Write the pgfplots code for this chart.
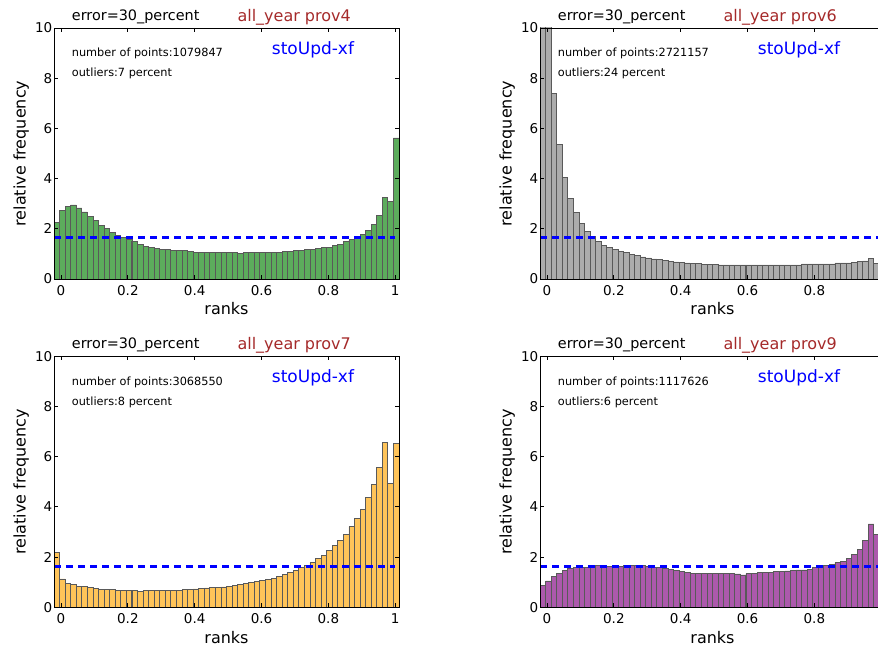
\documentclass[border=0pt]{standalone}
\usepackage{pgfplots}
\pgfplotsset{compat=1.18}
\usepackage{pgfplotstable}
\usepackage{fontspec}
\setmainfont{DejaVu Sans}
\definecolor{bargreen}{RGB}{92,172,92}
\definecolor{bargray}{RGB}{172,172,172}
\definecolor{barorange}{RGB}{255,196,89}
\definecolor{barpurple}{RGB}{172,89,172}
\definecolor{titlered}{RGB}{165,42,42}

\pgfplotstableread{
x p4 p6 p7 p9
-0.0127 2.27 15 2.20 0.88
0.0040 2.73 12 1.13 1.05
0.0206 2.89 7.40 0.95 1.23
0.0373 2.95 5.37 0.90 1.35
0.0539 2.83 4.05 0.83 1.47
0.0706 2.67 3.21 0.82 1.55
0.0872 2.49 2.66 0.78 1.59
0.1039 2.33 2.22 0.74 1.59
0.1205 2.13 1.90 0.71 1.60
0.1372 2.01 1.69 0.70 1.63
0.1538 1.87 1.51 0.70 1.67
0.1705 1.73 1.35 0.67 1.66
0.1871 1.67 1.26 0.67 1.63
0.2038 1.59 1.18 0.67 1.63
0.2204 1.49 1.10 0.67 1.64
0.2371 1.36 1.04 0.63 1.66
0.2537 1.29 0.98 0.66 1.66
0.2704 1.25 0.93 0.66 1.67
0.2870 1.20 0.88 0.66 1.67
0.3037 1.19 0.84 0.66 1.63
0.3203 1.17 0.80 0.66 1.59
0.3370 1.13 0.77 0.67 1.59
0.3536 1.12 0.73 0.67 1.55
0.3703 1.12 0.70 0.70 1.51
0.3869 1.08 0.68 0.71 1.47
0.4036 1.06 0.65 0.73 1.43
0.4202 1.06 0.64 0.75 1.39
0.4369 1.06 0.62 0.77 1.35
0.4535 1.06 0.61 0.78 1.35
0.4702 1.06 0.59 0.80 1.35
0.4868 1.06 0.58 0.81 1.35
0.5035 1.06 0.57 0.83 1.34
0.5201 1.06 0.56 0.88 1.34
0.5368 1.01 0.56 0.92 1.34
0.5534 1.05 0.56 0.95 1.34
0.5701 1.05 0.56 0.99 1.33
0.5867 1.05 0.56 1.03 1.29
0.6034 1.05 0.56 1.06 1.34
0.6200 1.05 0.56 1.10 1.34
0.6367 1.05 0.56 1.14 1.38
0.6533 1.06 0.56 1.22 1.38
0.6700 1.08 0.56 1.30 1.39
0.6866 1.10 0.56 1.38 1.42
0.7033 1.12 0.56 1.46 1.42
0.7199 1.14 0.56 1.58 1.45
0.7366 1.16 0.56 1.66 1.46
0.7532 1.19 0.56 1.78 1.49
0.7699 1.21 0.60 1.94 1.49
0.7865 1.24 0.60 2.06 1.50
0.8032 1.27 0.60 2.25 1.58
0.8198 1.32 0.60 2.45 1.60
0.8365 1.39 0.60 2.65 1.66
0.8531 1.51 0.60 2.89 1.72
0.8698 1.56 0.64 3.21 1.78
0.8864 1.67 0.64 3.53 1.82
0.9031 1.77 0.64 3.89 1.94
0.9197 1.93 0.67 4.36 2.10
0.9364 2.19 0.69 4.88 2.32
0.9530 2.53 0.72 5.56 2.67
0.9697 3.25 0.83 6.58 3.32
0.9863 3.09 0.62 4.93 2.89
1.0030 5.62 0.60 6.53 2.90
}\ranks

\pgfplotsset{
  rankaxis/.style={
    scale only axis, width=345pt, height=251pt, anchor=south west,
    xmin=-0.021, xmax=1.0113, ymin=0, ymax=10,
    xtick={0,0.2,0.4,0.6,0.8,1}, ytick={0,2,4,6,8,10},
    minor tick num=0,
    tick align=inside, major tick length=4pt,
    xtick pos=both, ytick pos=both,
    tick style={black, line width=0.8pt},
    axis line style={black, line width=0.8pt},
    axis on top,
    /pgf/number format/assume math mode=true,
    ticklabel style={font=\fontsize{13.5}{13.5}\selectfont},
    yticklabel style={inner sep=1.5pt},
    xticklabel style={inner sep=0pt, yshift=-6pt},
  },
  rankbar/.style={ybar, bar width=0.01665, bar shift=0pt, fill=#1, draw=black!65, line width=0.8pt},
}

\newcommand{\paneltexts}[5]{% #1 sx, #2 sy, #3 prov, #4 npoints, #5 outliers
  \begin{scope}[shift={(#1pt,#2pt)}]
    \node[anchor=base west, inner sep=0pt, font=\fontsize{14.4}{14.4}\selectfont] at (17.7pt,258.5pt) {error=30\_percent};
    \node[anchor=base west, inner sep=0pt, text=titlered, font=\fontsize{16}{16}\selectfont] at (183.3pt,257.7pt) {all\_year #3};
    \node[anchor=base west, inner sep=0pt, text=blue, font=\fontsize{17}{17}\selectfont] at (217.7pt,224.3pt) {stoUpd-xf};
    \node[anchor=base west, inner sep=0pt, font=\fontsize{11.3}{11.3}\selectfont] at (17.7pt,222.1pt) {number of points:#4};
    \node[anchor=base west, inner sep=0pt, font=\fontsize{11.3}{11.3}\selectfont] at (17.7pt,202.2pt) {outliers:#5 percent};
    \node[anchor=base, rotate=90, inner sep=0pt, font=\fontsize{16}{16}\selectfont] at (-28.3pt,125.5pt) {relative frequency};
    \node[anchor=base, inner sep=0pt, font=\fontsize{16}{16}\selectfont] at (172.5pt,-36pt) {ranks};
  \end{scope}
}

\begin{document}
\begin{tikzpicture}
\begin{axis}[rankaxis, at={(54pt,369pt)}]
  \addplot[rankbar=bargreen] table[x=x,y=p4]{\ranks};
  \addplot[blue, line width=3pt, dash pattern=on 7pt off 5pt] coordinates {(-0.021,1.645) (1.0,1.645)};
\end{axis}
\begin{axis}[rankaxis, at={(540pt,369pt)}]
  \addplot[rankbar=bargray] table[x=x,y=p6]{\ranks};
  \addplot[blue, line width=3pt, dash pattern=on 7pt off 5pt] coordinates {(-0.021,1.645) (1.0,1.645)};
\end{axis}
\begin{axis}[rankaxis, at={(54pt,40.7pt)}]
  \addplot[rankbar=barorange] table[x=x,y=p7]{\ranks};
  \addplot[blue, line width=3pt, dash pattern=on 7pt off 5pt] coordinates {(-0.021,1.645) (1.0,1.645)};
\end{axis}
\begin{axis}[rankaxis, at={(540pt,40.7pt)}]
  \addplot[rankbar=barpurple] table[x=x,y=p9]{\ranks};
  \addplot[blue, line width=3pt, dash pattern=on 7pt off 5pt] coordinates {(-0.021,1.645) (1.0,1.645)};
\end{axis}
\paneltexts{54}{369}{prov4}{1079847}{7}
\paneltexts{540}{369}{prov6}{2721157}{24}
\paneltexts{54}{40.7}{prov7}{3068550}{8}
\paneltexts{540}{40.7}{prov9}{1117626}{6}
\pgfresetboundingbox
\path[use as bounding box] (0pt,0pt) rectangle (878pt,648pt);
\end{tikzpicture}
\end{document}
